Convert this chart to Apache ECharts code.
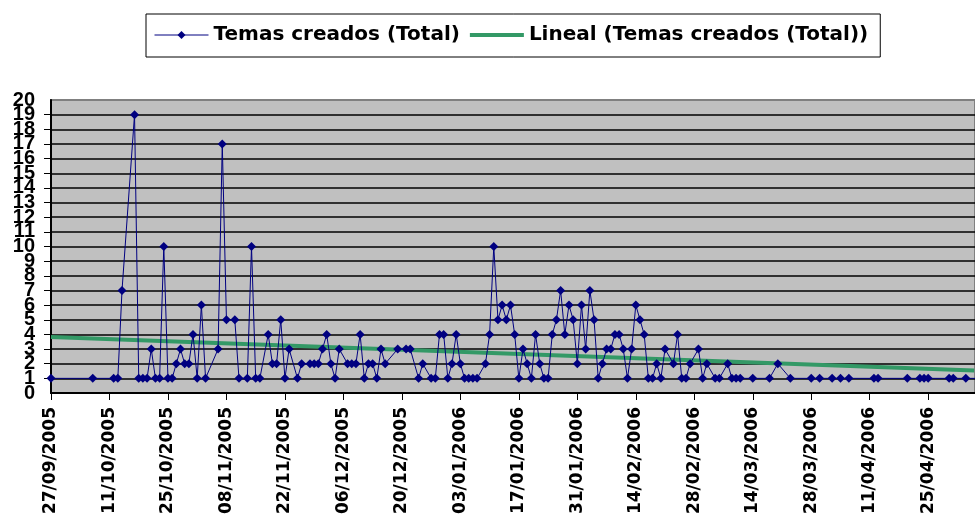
<!DOCTYPE html>
<html>
<head>
<meta charset="utf-8">
<script src="https://cdn.jsdelivr.net/npm/echarts@6/dist/echarts.min.js"></script>
<style>
  html, body { margin: 0; padding: 0; background: #fff; }
  #chart { width: 975px; height: 518px; }
</style>
</head>
<body>
<div id="chart"></div>
<script>
// Temas creados por día (lectura del gráfico original)
const fechas = [
  '2005-09-27', '2005-10-07', '2005-10-12', '2005-10-13', '2005-10-14', '2005-10-17', '2005-10-18',
  '2005-10-19', '2005-10-20', '2005-10-21', '2005-10-22', '2005-10-23', '2005-10-24', '2005-10-25',
  '2005-10-26', '2005-10-27', '2005-10-28', '2005-10-29', '2005-10-30', '2005-10-31', '2005-11-01',
  '2005-11-02', '2005-11-03', '2005-11-06', '2005-11-07', '2005-11-08', '2005-11-10', '2005-11-11',
  '2005-11-13', '2005-11-14', '2005-11-15', '2005-11-16', '2005-11-18', '2005-11-19', '2005-11-20',
  '2005-11-21', '2005-11-22', '2005-11-23', '2005-11-25', '2005-11-26', '2005-11-28', '2005-11-29',
  '2005-11-30', '2005-12-01', '2005-12-02', '2005-12-03', '2005-12-04', '2005-12-05', '2005-12-07',
  '2005-12-08', '2005-12-09', '2005-12-10', '2005-12-11', '2005-12-12', '2005-12-13', '2005-12-14',
  '2005-12-15', '2005-12-16', '2005-12-19', '2005-12-21', '2005-12-22', '2005-12-24', '2005-12-25',
  '2005-12-27', '2005-12-28', '2005-12-29', '2005-12-30', '2005-12-31', '2006-01-01', '2006-01-02',
  '2006-01-03', '2006-01-04', '2006-01-05', '2006-01-06', '2006-01-07', '2006-01-09', '2006-01-10',
  '2006-01-11', '2006-01-12', '2006-01-13', '2006-01-14', '2006-01-15', '2006-01-16', '2006-01-17',
  '2006-01-18', '2006-01-19', '2006-01-20', '2006-01-21', '2006-01-22', '2006-01-23', '2006-01-24',
  '2006-01-25', '2006-01-26', '2006-01-27', '2006-01-28', '2006-01-29', '2006-01-30', '2006-01-31',
  '2006-02-01', '2006-02-02', '2006-02-03', '2006-02-04', '2006-02-05', '2006-02-06', '2006-02-07',
  '2006-02-08', '2006-02-09', '2006-02-10', '2006-02-11', '2006-02-12', '2006-02-13', '2006-02-14',
  '2006-02-15', '2006-02-16', '2006-02-17', '2006-02-18', '2006-02-19', '2006-02-20', '2006-02-21',
  '2006-02-23', '2006-02-24', '2006-02-25', '2006-02-26', '2006-02-27', '2006-03-01', '2006-03-02',
  '2006-03-03', '2006-03-05', '2006-03-06', '2006-03-08', '2006-03-09', '2006-03-10', '2006-03-11',
  '2006-03-14', '2006-03-18', '2006-03-20', '2006-03-23', '2006-03-28', '2006-03-30', '2006-04-02',
  '2006-04-04', '2006-04-06', '2006-04-12', '2006-04-13', '2006-04-20', '2006-04-23', '2006-04-24',
  '2006-04-25', '2006-04-30', '2006-05-01', '2006-05-04', '2006-05-07'
];
const temas = [
  1, 1, 1, 1, 7, 19, 1,
  1, 1, 3, 1, 1, 10, 1,
  1, 2, 3, 2, 2, 4, 1,
  6, 1, 3, 17, 5, 5, 1,
  1, 10, 1, 1, 4, 2, 2,
  5, 1, 3, 1, 2, 2, 2,
  2, 3, 4, 2, 1, 3, 2,
  2, 2, 4, 1, 2, 2, 1,
  3, 2, 3, 3, 3, 1, 2,
  1, 1, 4, 4, 1, 2, 4,
  2, 1, 1, 1, 1, 2, 4,
  10, 5, 6, 5, 6, 4, 1,
  3, 2, 1, 4, 2, 1, 1,
  4, 5, 7, 4, 6, 5, 2,
  6, 3, 7, 5, 1, 2, 3,
  3, 4, 4, 3, 1, 3, 6,
  5, 4, 1, 1, 2, 1, 3,
  2, 4, 1, 1, 2, 3, 1,
  2, 1, 1, 2, 1, 1, 1,
  1, 1, 2, 1, 1, 1, 1,
  1, 1, 1, 1, 1, 1, 1,
  1, 1, 1, 1, 1
];
// Línea de tendencia (extremos)
const tendenciaFechas = ['2005-09-27', '2006-05-06'];
const tendenciaValores = [3.83, 1.54];
// Etiquetas del eje Y que Excel dibuja en los extremos
const extremosY = [0, 20];

const INICIO = Date.UTC(2005, 8, 27);
const DIA = 86400000;
const dias = (s) => {
  const [y, m, d] = s.split('-').map(Number);
  return (Date.UTC(y, m - 1, d) - INICIO) / DIA;
};
const etiquetaFecha = (v) => {
  const dt = new Date(INICIO + v * DIA);
  const p = (n) => String(n).padStart(2, '0');
  return `${p(dt.getUTCDate())}/${p(dt.getUTCMonth() + 1)}/${dt.getUTCFullYear()}`;
};

const fuenteY = { fontFamily: 'Liberation Sans', fontWeight: 'bold', fontSize: 20, color: '#000' };

const chart = echarts.init(document.getElementById('chart'));
chart.setOption({
  animation: false,
  backgroundColor: '#fff',
  legend: {
    left: 146,
    top: 14,
    padding: [11, 12, 12, 8],
    itemGap: 8,
    itemWidth: 54,
    itemHeight: 10,
    borderColor: '#000',
    borderWidth: 1,
    textStyle: { fontFamily: 'DejaVu Sans', fontWeight: 'bold', fontSize: 20, color: '#000' },
    data: [
      { name: 'Temas creados (Total)', lineStyle: { width: 1 } },
      { name: 'Lineal (Temas creados (Total))', itemStyle: { opacity: 0 }, lineStyle: { width: 4 } },
    ],
  },
  grid: {
    left: 51, right: -3, top: 100, bottom: 125,
    show: true, backgroundColor: '#C0C0C0', borderColor: '#808080', borderWidth: 2,
  },
  xAxis: {
    type: 'value',
    min: 0,
    max: 221.2,
    interval: 14,
    axisLine: { lineStyle: { color: '#000', width: 2 } },
    axisTick: { show: true, length: 7, lineStyle: { color: '#000', width: 1 } },
    axisLabel: {
      rotate: 90, margin: 14, showMaxLabel: false,
      fontFamily: 'DejaVu Sans', fontWeight: 'bold', fontSize: 17, color: '#000',
      formatter: etiquetaFecha,
    },
    splitLine: { show: false },
  },
  yAxis: [
    {
      type: 'value',
      min: 0,
      max: 20,
      interval: 1,
      axisLine: { show: true, lineStyle: { color: '#000', width: 2 } },
      axisTick: { show: true, length: 7, lineStyle: { color: '#000', width: 1 } },
      axisLabel: {
        margin: 16, hideOverlap: false, showMinLabel: false, showMaxLabel: false,
        ...fuenteY,
        formatter: (v) => (extremosY.includes(v) ? '' : String(v)),
      },
      splitLine: { show: true, showMaxLine: false, lineStyle: { color: '#000', width: 1.5 } },
    },
    {
      type: 'value',
      position: 'left',
      min: 0,
      max: 20,
      interval: 1,
      axisLine: { show: false },
      axisTick: { show: false },
      splitLine: { show: false },
      axisLabel: {
        margin: 16, hideOverlap: false, showMinLabel: true, showMaxLabel: true,
        ...fuenteY,
        formatter: (v) => (extremosY.includes(v) ? String(v) : ''),
      },
    },
  ],
  series: [
    {
      name: 'Temas creados (Total)',
      type: 'line',
      data: fechas.map((f, i) => [dias(f), temas[i]]),
      symbol: 'diamond',
      symbolSize: 9,
      lineStyle: { color: '#000080', width: 1 },
      itemStyle: { color: '#000080' },
      z: 3,
    },
    {
      name: 'Lineal (Temas creados (Total))',
      type: 'line',
      data: tendenciaFechas.map((f, i) => [dias(f), tendenciaValores[i]]),
      symbol: 'none',
      lineStyle: { color: '#339966', width: 4 },
      itemStyle: { color: '#339966' },
      z: 2,
    },
  ],
});
</script>
</body>
</html>
